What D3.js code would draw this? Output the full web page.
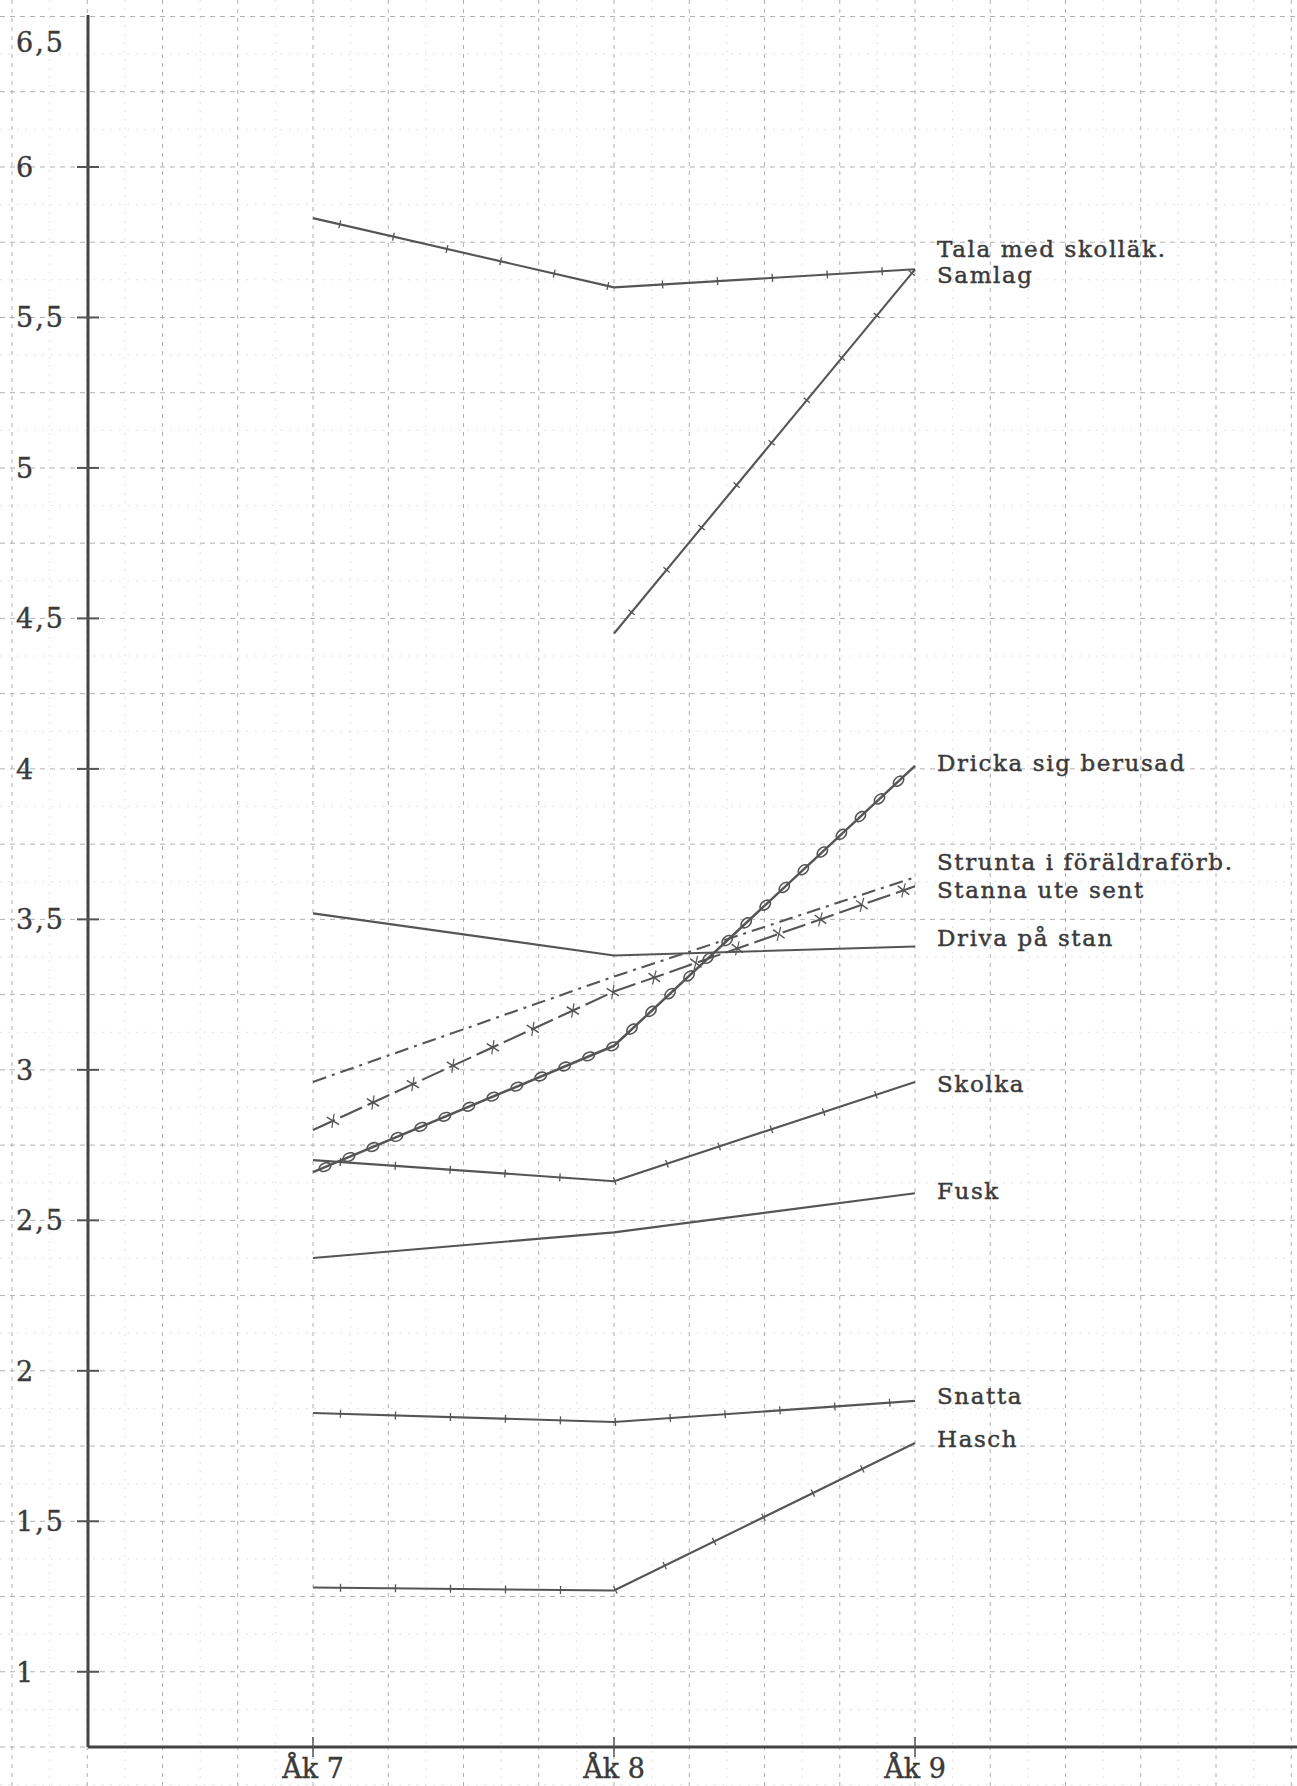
<!DOCTYPE html>
<html>
<head>
<meta charset="utf-8">
<script src="https://cdn.jsdelivr.net/npm/d3@7"></script>
<style>
  html, body { margin: 0; padding: 0; background: #fff; }
  svg { display: block; }
  text { font-family: "DejaVu Serif", "Liberation Serif", serif; fill: #3a3a3a; }
</style>
</head>
<body>
<svg id="chart" width="1297" height="1786"></svg>
<script>
// ---------- data ----------
const categories = ["Åk 7", "Åk 8", "Åk 9"];
const seriesNames = [
  "Tala med skolläk.", "Samlag", "Dricka sig berusad", "Strunta i föräldraförb.",
  "Stanna ute sent", "Driva på stan", "Skolka", "Fusk", "Snatta", "Hasch"
];
const talaMedSkollak      = [5.83, 5.60, 5.66];
const samlag              = [null, 4.45, 5.66];
const drickaSigBerusad    = [2.66, 3.08, 4.01];
const struntaIForaldraforb = [2.96, 3.31, 3.64];
const stannaUteSent       = [2.80, 3.26, 3.61];
const drivaPaStan         = [3.52, 3.38, 3.41];
const skolka              = [2.70, 2.63, 2.96];
const fusk                = [2.375, 2.46, 2.59];
const snatta              = [1.86, 1.83, 1.90];
const hasch               = [1.28, 1.27, 1.76];
const yTickValues = [1, 1.5, 2, 2.5, 3, 3.5, 4, 4.5, 5, 5.5, 6, 6.5];
const yTickLabels = ["1", "1,5", "2", "2,5", "3", "3,5", "4", "4,5", "5", "5,5", "6", "6,5"];

const seriesValues = [talaMedSkollak, samlag, drickaSigBerusad, struntaIForaldraforb,
  stannaUteSent, drivaPaStan, skolka, fusk, snatta, hasch];

// ---------- style / layout ----------
const lineStyle = ["ticks", "ticks", "circles", "dashdot", "crosses", "plain", "ticks", "plain", "ticks", "ticks"];
const labelDy = [-12, 14, 5, -7, 12, 0, 10, 6, 3, 4];
const inkColor = "#555";

const W = 1297, H = 1786;
const svg = d3.select("#chart");
const x = d3.scaleLinear().domain([0, 2]).range([313, 915]);
const xPoint = d3.scalePoint().domain(categories).range([313, 915]);
const y = d3.scaleLinear().domain([0.75, 6.5]).range([1747, 16.5]);
const axisX = 88;

// ---------- graph paper grid ----------
const grid = svg.append("g");
const step = 0.125;
const xMin = x.invert(0), xMax = x.invert(W);
for (let k = Math.ceil(xMin / step); k * step <= xMax; k++) {
  const major = k % 2 === 0;
  const px = x(k * step);
  grid.append("line")
    .attr("x1", px).attr("x2", px).attr("y1", 0).attr("y2", H)
    .attr("stroke", major ? "#b0b0b0" : "#dadada")
    .attr("stroke-width", 1)
    .attr("stroke-dasharray", major ? "4,5" : "1.5,7");
}
const yMinV = y.invert(H), yMaxV = y.invert(0);
for (let k = Math.ceil(yMinV / step); k * step <= yMaxV; k++) {
  const major = k % 2 === 0;
  const py = y(k * step);
  grid.append("line")
    .attr("x1", 0).attr("x2", W).attr("y1", py).attr("y2", py)
    .attr("stroke", major ? "#b0b0b0" : "#dadada")
    .attr("stroke-width", 1)
    .attr("stroke-dasharray", major ? "5,5" : "1.5,7");
}

// ---------- axes ----------
const axG = svg.append("g");
axG.append("line").attr("x1", axisX).attr("x2", axisX).attr("y1", 15).attr("y2", y(0.75))
  .attr("stroke", "#444").attr("stroke-width", 3);
axG.append("line").attr("x1", axisX).attr("x2", W).attr("y1", y(0.75)).attr("y2", y(0.75))
  .attr("stroke", "#444").attr("stroke-width", 3);

yTickValues.forEach((v, i) => {
  if (v < 6.5) {
    axG.append("line").attr("x1", axisX - 11).attr("x2", axisX + 11)
      .attr("y1", y(v)).attr("y2", y(v)).attr("stroke", "#555").attr("stroke-width", 2);
  }
  axG.append("text")
    .attr("x", 16).attr("y", v === 6.5 ? y(v) + 35 : y(v) + 10)
    .attr("font-size", 27).attr("letter-spacing", 2)
    .attr("stroke", "#3a3a3a").attr("stroke-width", 0.4)
    .text(yTickLabels[i]);
});

categories.forEach(c => {
  axG.append("line").attr("x1", xPoint(c)).attr("x2", xPoint(c))
    .attr("y1", y(0.75) - 10).attr("y2", y(0.75) + 10).attr("stroke", "#555").attr("stroke-width", 1.5);
  axG.append("text").attr("x", xPoint(c)).attr("y", 1778)
    .attr("text-anchor", "middle").attr("font-size", 27)
    .attr("stroke", "#3a3a3a").attr("stroke-width", 0.4)
    .text(c);
});

// ---------- series ----------
const lineGen = d3.line()
  .defined(d => d.v != null)
  .x(d => xPoint(d.c))
  .y(d => y(d.v));

const lg = svg.append("g");
seriesValues.forEach((vals, si) => {
  const pts = categories.map((c, i) => ({ c, v: vals[i] }));
  const style = lineStyle[si];
  const path = lg.append("path").datum(pts)
    .attr("d", lineGen)
    .attr("fill", "none")
    .attr("stroke", inkColor)
    .attr("stroke-width", style === "circles" ? 2.5 : 2.1)
    .attr("stroke-linejoin", "round");
  if (style === "dashdot") path.attr("stroke-dasharray", "14,6,3,6");
  if (style === "crosses") path.attr("stroke-dasharray", "24,6");

  const node = path.node();
  const L = node.getTotalLength();
  const spacing = style === "circles" ? 26 : style === "crosses" ? 44 : 55;
  if (style !== "plain" && style !== "dashdot") {
    for (let s = spacing / 2; s < L - 4; s += spacing) {
      const p = node.getPointAtLength(s);
      const q = node.getPointAtLength(Math.min(L, s + 1));
      const ang = Math.atan2(q.y - p.y, q.x - p.x) * 180 / Math.PI;
      const g = lg.append("g").attr("transform", `translate(${p.x},${p.y}) rotate(${ang})`);
      if (style === "circles") {
        g.append("ellipse").attr("rx", 6).attr("ry", 4)
          .attr("fill", "none").attr("stroke", inkColor).attr("stroke-width", 1.6);
      } else if (style === "crosses") {
        g.append("line").attr("x1", -4).attr("x2", 4).attr("y1", -6).attr("y2", 6)
          .attr("stroke", inkColor).attr("stroke-width", 1.5);
        g.append("line").attr("x1", -4).attr("x2", 4).attr("y1", 6).attr("y2", -6)
          .attr("stroke", inkColor).attr("stroke-width", 1.2);
      } else {
        g.append("line").attr("x1", 0).attr("x2", 0).attr("y1", -4).attr("y2", 4)
          .attr("stroke", inkColor).attr("stroke-width", 1.3);
      }
    }
  }

  const last = vals[vals.length - 1];
  lg.append("text")
    .attr("x", 937).attr("y", y(last) + labelDy[si])
    .attr("font-size", 23).attr("letter-spacing", 1.6)
    .attr("stroke", "#3a3a3a").attr("stroke-width", 0.45)
    .text(seriesNames[si]);
});
</script>
</body>
</html>
